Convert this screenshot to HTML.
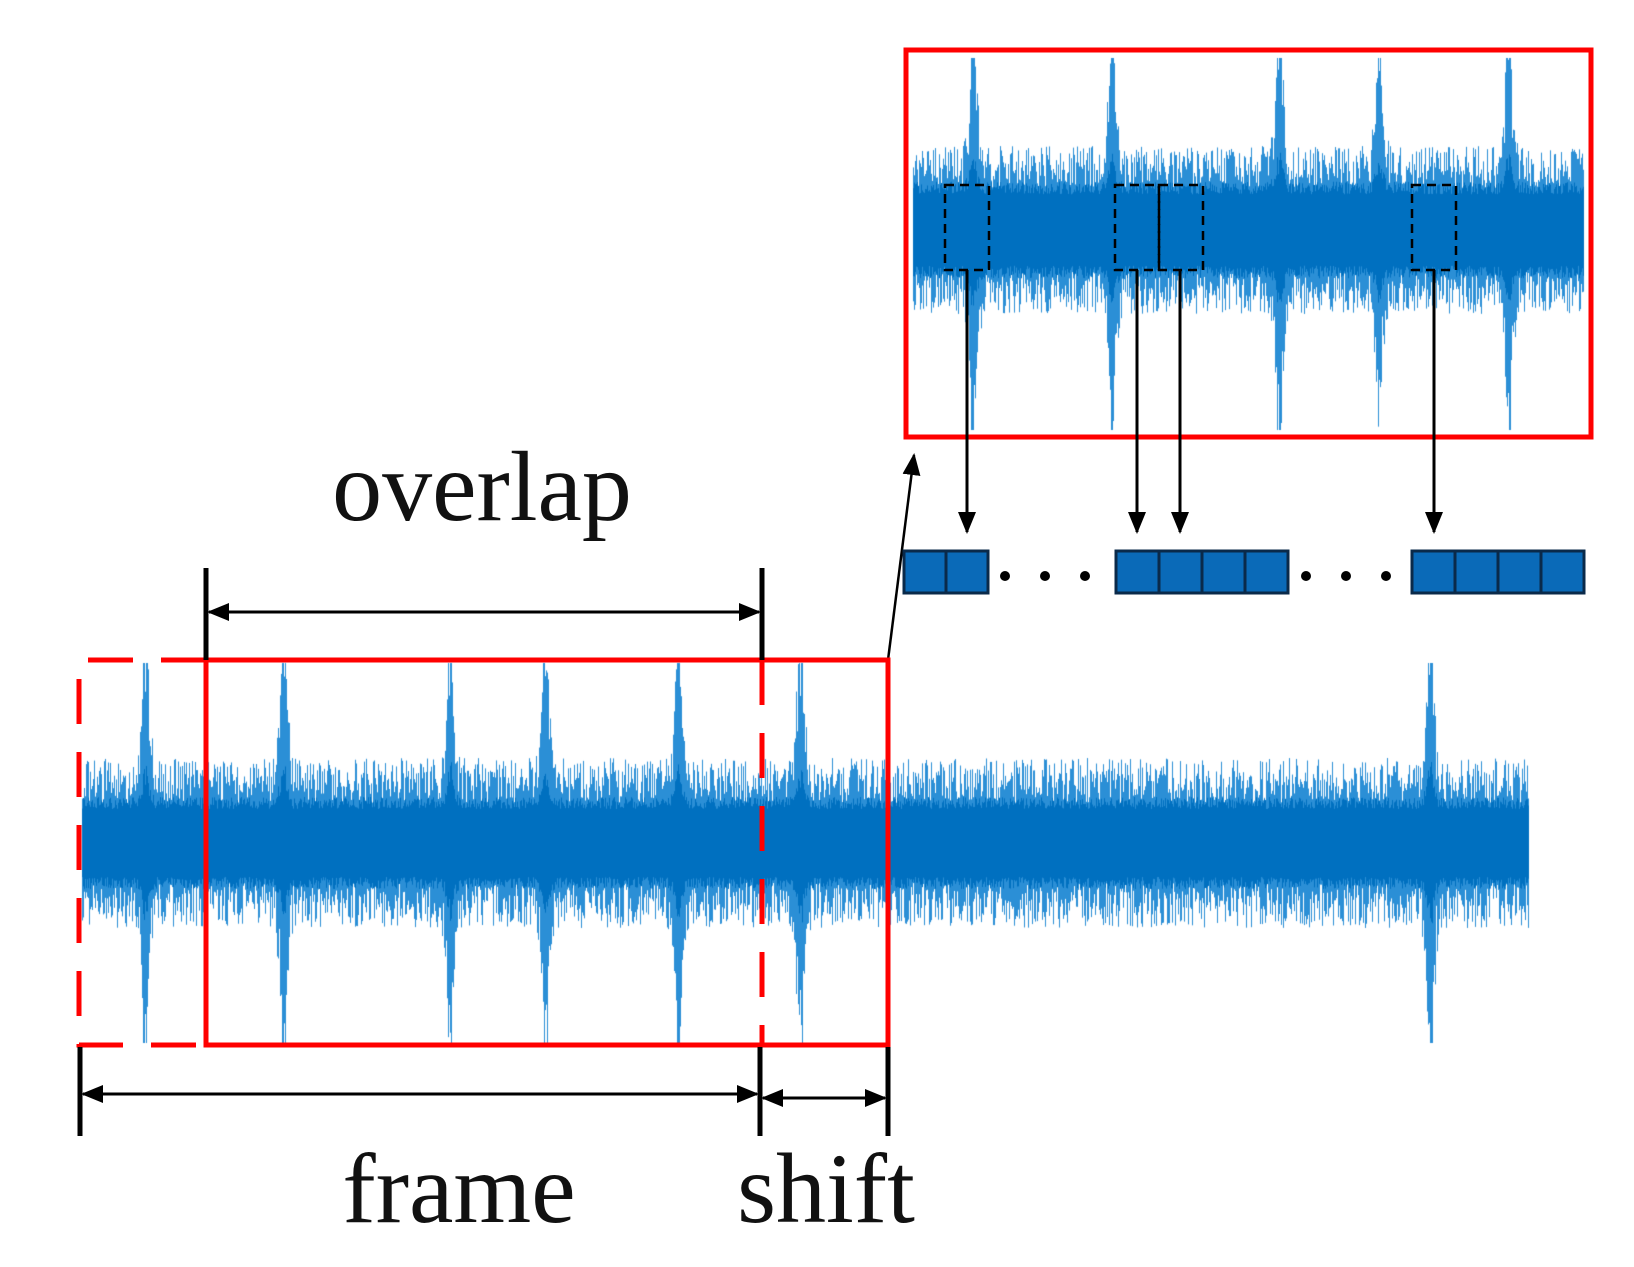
<!DOCTYPE html>
<html><head><meta charset="utf-8"><style>
html,body{margin:0;padding:0;background:#fff;}
#w{position:relative;width:1634px;height:1267px;overflow:hidden;}
canvas,svg{position:absolute;left:0;top:0;}
</style></head><body><div id="w">
<canvas id="c" width="1634" height="1267"></canvas>
<svg width="1634" height="1267" viewBox="0 0 1634 1267">
<defs>
<marker id="b" markerWidth="22" markerHeight="18" refX="20" refY="9" orient="auto" markerUnits="userSpaceOnUse"><path d="M0,0 L22,9 L0,18z" fill="#000"/></marker>
<marker id="b2" markerWidth="22" markerHeight="18" refX="2" refY="9" orient="auto" markerUnits="userSpaceOnUse"><path d="M22,0 L0,9 L22,18z" fill="#000"/></marker></defs>
<rect x="906" y="50" width="685" height="387" fill="none" stroke="#f00" stroke-width="5"/>
<g fill="none" stroke="#000" stroke-width="2.5" stroke-dasharray="9,6">
<rect x="945" y="185" width="44" height="85"/>
<rect x="1115" y="185" width="44" height="85"/>
<rect x="1159" y="185" width="44" height="85"/>
<rect x="1412" y="185" width="44" height="85"/>
</g>
<g stroke="#000" stroke-width="3" fill="none">
<path d="M967,270 V532" marker-end="url(#b)"/>
<path d="M1137,270 V532" marker-end="url(#b)"/>
<path d="M1180,270 V532" marker-end="url(#b)"/>
<path d="M1434,270 V532" marker-end="url(#b)"/>
<path d="M888,660 L914,455" marker-end="url(#b)" stroke-width="2.5"/>
</g>
<g fill="#0a6ab8" stroke="#0a2a4a" stroke-width="3">
<rect x="904" y="551" width="42" height="42"/><rect x="946" y="551" width="42" height="42"/>
<rect x="1116" y="551" width="43" height="42"/><rect x="1159" y="551" width="43" height="42"/><rect x="1202" y="551" width="43" height="42"/><rect x="1245" y="551" width="43" height="42"/>
<rect x="1412" y="551" width="43" height="42"/><rect x="1455" y="551" width="43" height="42"/><rect x="1498" y="551" width="43" height="42"/><rect x="1541" y="551" width="43" height="42"/>
</g>
<g fill="#000"><circle cx="1005" cy="576" r="5"/><circle cx="1045" cy="576" r="5"/><circle cx="1085" cy="576" r="5"/>
<circle cx="1306" cy="576" r="5"/><circle cx="1346" cy="576" r="5"/><circle cx="1386" cy="576" r="5"/></g>
<g stroke="#f00" stroke-width="5" fill="none">
<path d="M206,660 H888 V1045 H206 Z"/>
<path d="M206,660 H79 V1045 H206" stroke-dasharray="45,28"/>
<path d="M762,660 V1045" stroke-dasharray="45,28"/>
</g>
<g stroke="#000" stroke-width="5">
<line x1="206" y1="568" x2="206" y2="660"/><line x1="762" y1="568" x2="762" y2="660"/>
<line x1="80" y1="1047" x2="80" y2="1136"/><line x1="760" y1="1047" x2="760" y2="1136"/><line x1="888" y1="1047" x2="888" y2="1136"/>
</g>
<g stroke="#000" stroke-width="3">
<line x1="209" y1="612" x2="759" y2="612" marker-start="url(#b2)" marker-end="url(#b)"/>
<line x1="83" y1="1094" x2="757" y2="1094" marker-start="url(#b2)" marker-end="url(#b)"/>
<line x1="763" y1="1098" x2="885" y2="1098" marker-start="url(#b2)" marker-end="url(#b)"/>
</g>
<g font-family="Liberation Serif, serif" font-size="100" fill="#111" text-anchor="middle">
<text x="482" y="520">overlap</text>
<text x="459" y="1222">frame</text>
<text x="826" y="1222">shift</text>
</g>
</svg>
<script>
var c=document.getElementById('c').getContext('2d');
var s=12345;function r(){s=(s*16807)%2147483647;return s/2147483647;}
function wave(x0,x1,cy,core,noise,spikes,capU,capD){
 for(var x=x0;x<x1;x+=1){
  var sp=0;for(var i=0;i<spikes.length;i++){var d=Math.abs(x-spikes[i][0]);if(d<12){var f=d<3?1:Math.pow(1-d/12,2.2);sp=Math.max(sp,spikes[i][1]*f*(0.5+0.5*r()));}}
  var up=Math.min(core+noise*r()+sp,capU), dn=Math.min(core+noise*r()+sp*(0.85+0.2*r()),capD);
  c.strokeStyle='#2b8fd6';c.beginPath();c.moveTo(x+0.5,cy-up);c.lineTo(x+0.5,cy+dn);c.stroke();
  c.strokeStyle='#0070c0';c.beginPath();c.moveTo(x+0.5,cy-core*(0.85+0.3*r())-sp*0.2);c.lineTo(x+0.5,cy+core*(0.85+0.3*r())+sp*0.2);c.stroke();
 }
}
c.lineWidth=1;
wave(82,1529,843,40,45,[[145,180],[283,180],[450,180],[545,160],[678,180],[800,180],[1430,190]],180,200);
wave(913,1584,230,42,42,[[973,170],[1112,175],[1279,175],[1379,165],[1508,175]],172,200);
</script>
</div></body></html>
